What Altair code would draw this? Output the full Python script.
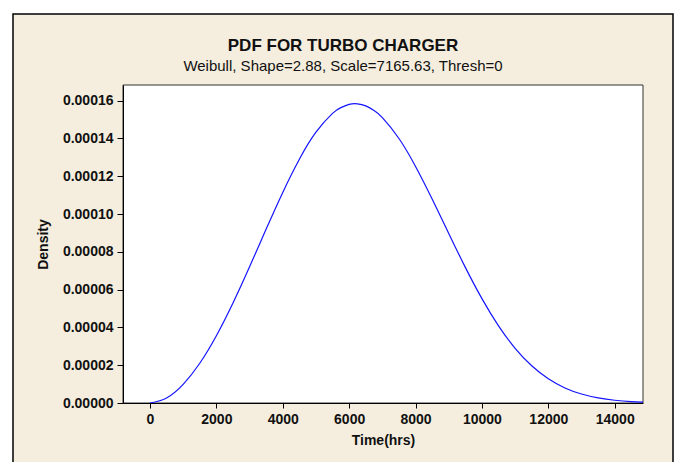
import altair as alt
import pandas as pd

# Weibull PDF values
time_hrs = [0, 500, 1000, 1500, 2000, 2500, 3000, 3500, 4000, 4500, 5000,
            5500, 5750, 6000, 6250, 6500, 6750, 7000, 7500, 8000, 8500, 9000,
            9500, 10000, 10500, 11000, 11500, 12000, 12500, 13000, 13500,
            14000, 14500, 15000]
density = [0.0, 2.69e-6, 9.88e-6, 2.102e-5, 3.558e-5, 5.29e-5, 7.209e-5,
           9.204e-5, 1.1146e-4, 1.29e-4, 1.4331e-4, 1.5326e-4, 1.5633e-4,
           1.5803e-4, 1.5833e-4, 1.5724e-4, 1.5479e-4, 1.5103e-4, 1.3999e-4,
           1.252e-4, 1.0798e-4, 8.975e-5, 7.178e-5, 5.522e-5, 4.082e-5,
           2.895e-5, 1.969e-5, 1.282e-5, 7.98e-6, 4.74e-6, 2.69e-6, 1.45e-6,
           7.5e-7, 3.7e-7]

x_ticks = [0, 2000, 4000, 6000, 8000, 10000, 12000, 14000]
y_ticks = [0.0, 0.00002, 0.00004, 0.00006, 0.00008, 0.00010, 0.00012, 0.00014, 0.00016]

title_text = "PDF FOR TURBO CHARGER"
subtitle_text = "Weibull, Shape=2.88, Scale=7165.63, Thresh=0"

df = pd.DataFrame({"time": time_hrs, "density": density})

FONT = "Liberation Sans"
BEIGE = "#F5EEDE"

one = alt.Data(values=[{}])

frame = alt.Chart(one).mark_rect(fill=BEIGE, stroke="black", strokeWidth=1.5).encode(
    x=alt.value(-110), x2=alt.value(550), y=alt.value(-71), y2=alt.value(400)
)

plot_bg = alt.Chart(one).mark_rect(fill="white", stroke="#333333", strokeWidth=1).encode(
    x=alt.value(0), x2=alt.value(520), y=alt.value(0), y2=alt.value(318)
)

line = alt.Chart(df).mark_line(color="#1414ff", strokeWidth=1.2, clip=True,
                               interpolate="natural").encode(
    x=alt.X("time:Q",
            scale=alt.Scale(domain=[-813, 14852], nice=False, zero=False),
            axis=alt.Axis(values=x_ticks, format="d", title="Time(hrs)", grid=False,
                          tickSize=5, labelPadding=4, titleY=41,
                          titleBaseline="alphabetic", labelFlush=False,
                          labelOverlap=False, zindex=2)),
    y=alt.Y("density:Q",
            scale=alt.Scale(domain=[0, 0.0001683], nice=False),
            axis=alt.Axis(values=y_ticks, format=".5f", title="Density", grid=False,
                          tickSize=6, labelPadding=4, titleX=-76, titleY=159,
                          titleAngle=270, titleBaseline="alphabetic",
                          titleAlign="center", labelFlush=False,
                          labelOverlap=False, zindex=2)),
)

title_mark = alt.Chart(one).mark_text(
    text=title_text, font=FONT, fontSize=17, fontWeight="bold", color="#111111",
    align="center", baseline="alphabetic"
).encode(x=alt.value(220), y=alt.value(-34))

subtitle_mark = alt.Chart(one).mark_text(
    text=subtitle_text, font=FONT, fontSize=15, color="#111111",
    align="center", baseline="alphabetic"
).encode(x=alt.value(220), y=alt.value(-14.5))

chart = alt.layer(frame, plot_bg, line, title_mark, subtitle_mark).properties(
    width=520, height=318,
    autosize=alt.AutoSizeParams(type="none"),
    padding={"left": 123, "top": 85, "right": 35, "bottom": 59},
    background="white",
).configure_view(stroke=None, fill=None).configure_axis(
    domainColor="black",
    domainWidth=1,
    tickColor="black",
    labelFont=FONT,
    labelFontSize=14,
    labelFontWeight="bold",
    labelColor="#111111",
    titleFont=FONT,
    titleFontSize=14,
    titleFontWeight="bold",
    titleColor="#111111",
)

chart.save("out.html", embed_options={"renderer": "svg", "actions": False})
